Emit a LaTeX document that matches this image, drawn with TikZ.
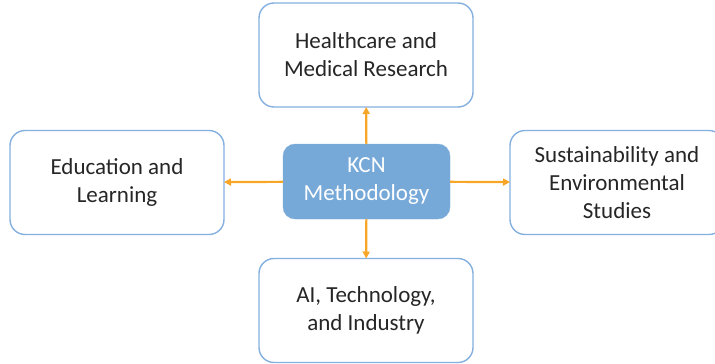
\documentclass[tikz,border=0pt]{standalone}
\usepackage{fontspec}
\setmainfont{Carlito}
\usetikzlibrary{arrows.meta}
\definecolor{boxline}{RGB}{132,176,224}
\definecolor{kcnfill}{RGB}{118,168,216}
\definecolor{arrowcol}{RGB}{247,166,40}
\tikzset{
  area/.style={draw=boxline, line width=1.4pt, fill=white, rounded corners=15pt,
    minimum width=214pt, minimum height=104pt, align=center, outer sep=0pt,
    font=\fontsize{23}{28}\selectfont, text=black!85},
  core/.style={fill=kcnfill, draw=kcnfill!90!white, rounded corners=12pt,
    minimum width=167pt, minimum height=75pt, align=center, outer sep=0pt,
    font=\fontsize{23}{28}\selectfont, text=white},
  link/.style={-{Triangle[length=7pt,width=7pt]}, draw=arrowcol, line width=2.2pt}
}
\begin{document}
\begin{tikzpicture}[x=1pt, y=-1pt]
		\useasboundingbox (0,0) rectangle (715,364);
		\node[core] (0) at (366.5,181.5) {KCN\\Methodology};
		\node[area] (1) at (366,55) {Healthcare and\\Medical Research};
		\node[area] (2) at (117,182.5) {Education and\\Learning};
		\node[area] (3) at (617,182.5) {Sustainability and\\Environmental\\Studies};
		\node[area] (4) at (366,310.5) {AI, Technology,\\and Industry};
                \draw[link] (0) -- (1);
                \draw[link] (0) -- (2);
                \draw[link] (0) -- (3);
                \draw[link] (0) -- (4);
		\end{tikzpicture}
\end{document}
